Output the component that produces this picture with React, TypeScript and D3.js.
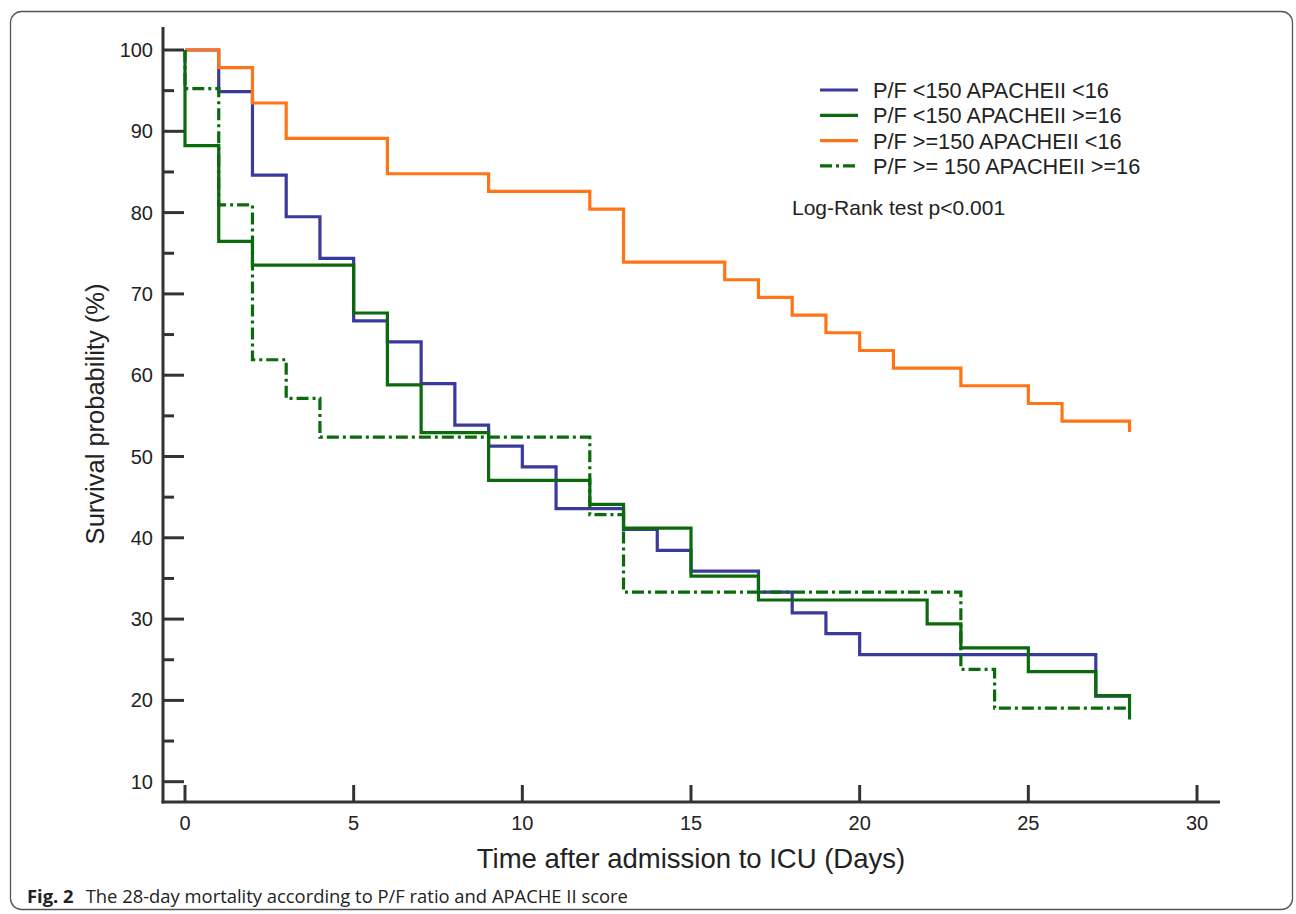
import { useEffect } from "react";
import * as d3 from "d3";

// Kaplan-Meier steps (day, survival %)
const blueDays = [0, 1, 2, 3, 4, 5, 6, 7, 8, 9, 10, 11, 13, 14, 15, 17, 18, 19, 20, 27, 28];
const blueVals = [100, 94.87, 84.62, 79.49, 74.36, 66.67, 64.1, 58.97, 53.85, 51.28, 48.72, 43.59, 41.03, 38.46, 35.9, 33.33, 30.77, 28.21, 25.64, 20.51, 20.51];

const greenDays = [0, 0, 1, 2, 5, 6, 7, 9, 12, 13, 15, 17, 22, 23, 25, 27, 28];
const greenVals = [100, 88.24, 76.47, 73.53, 67.65, 58.82, 52.94, 47.06, 44.12, 41.18, 35.29, 32.35, 29.41, 26.47, 23.53, 20.59, 17.65];

const orangeDays = [0, 1, 2, 3, 6, 9, 12, 13, 16, 17, 18, 19, 20, 21, 23, 25, 26, 28];
const orangeVals = [100, 97.83, 93.48, 89.13, 84.78, 82.61, 80.43, 73.91, 71.74, 69.57, 67.39, 65.22, 63.04, 60.87, 58.7, 56.52, 54.35, 53.0];

const dashDays = [0, 0, 1, 2, 3, 4, 12, 13, 23, 24, 28];
const dashVals = [100, 95.24, 80.95, 61.9, 57.14, 52.38, 42.86, 33.33, 23.81, 19.05, 19.05];

const legendLabels = [
  "P/F <150 APACHEII <16",
  "P/F <150 APACHEII >=16",
  "P/F >=150 APACHEII <16",
  "P/F >= 150 APACHEII >=16",
];

const xTicks = [0, 5, 10, 15, 20, 25, 30];
const yMajor = [10, 20, 30, 40, 50, 60, 70, 80, 90, 100];
const yMinor = [15, 25, 35, 45, 55, 65, 75, 85, 95];

const BLUE = "#3a3a9c";
const GREEN = "#0b6a0b";
const ORANGE = "#ff7417";
const AXIS = "#333";
const FONT = "'Liberation Sans', Arial, sans-serif";

export default function App() {
  useEffect(() => {
    document.body.style.margin = "0";
  }, []);

  const W = 1296;
  const H = 914;

  const x = d3.scaleLinear().domain([0, 30]).range([185, 1197]);
  const y = d3.scaleLinear().domain([10, 100]).range([781.7, 50]);

  const axisX = 163;
  const axisY = 802;

  const line = d3
    .line<[number, number]>()
    .x((d) => x(d[0]))
    .y((d) => y(d[1]))
    .curve(d3.curveStepAfter);

  const zip = (a: number[], b: number[]) => a.map((d, i) => [d, b[i]] as [number, number]);

  const series = [
    { key: "blue", data: zip(blueDays, blueVals), color: BLUE, dash: null },
    { key: "green", data: zip(greenDays, greenVals), color: GREEN, dash: null },
    { key: "orange", data: zip(orangeDays, orangeVals), color: ORANGE, dash: null },
    { key: "dash", data: zip(dashDays, dashVals), color: GREEN, dash: "12,4,3,4" },
  ];

  const legendStyle = [
    { color: BLUE, dash: null },
    { color: GREEN, dash: null },
    { color: ORANGE, dash: null },
    { color: GREEN, dash: "12,4,3,4" },
  ];

  return (
    <svg width={W} height={H} style={{ display: "block", background: "#fff" }}>
      <rect x={10.5} y={11.5} width={1282} height={898} rx={11} fill="none" stroke="#555" strokeWidth={1.3} />

      {/* curves */}
      <g fill="none" strokeWidth={3.2}>
        {series.map((s) => (
          <path key={s.key} d={line(s.data) || ""} stroke={s.color} strokeDasharray={s.dash || undefined} />
        ))}
      </g>

      {/* y axis */}
      <line x1={axisX} x2={axisX} y1={27} y2={axisY + 1.5} stroke={AXIS} strokeWidth={3} />
      {yMajor.map((v) => (
        <g key={"ym" + v}>
          <line x1={axisX} x2={184} y1={y(v)} y2={y(v)} stroke={AXIS} strokeWidth={3} />
          <text x={153} y={y(v) + 7} textAnchor="end" fontFamily={FONT} fontSize={20} fill="#222">
            {v}
          </text>
        </g>
      ))}
      {yMinor.map((v) => (
        <line key={"yn" + v} x1={axisX} x2={174} y1={y(v)} y2={y(v)} stroke={AXIS} strokeWidth={3} />
      ))}

      {/* x axis */}
      <line x1={axisX - 1.5} x2={1220} y1={axisY} y2={axisY} stroke={AXIS} strokeWidth={3} />
      {xTicks.map((t) => (
        <g key={"xt" + t}>
          <line x1={x(t)} x2={x(t)} y1={axisY} y2={785} stroke={AXIS} strokeWidth={3} />
          <text x={x(t)} y={830} textAnchor="middle" fontFamily={FONT} fontSize={20} fill="#222">
            {t}
          </text>
        </g>
      ))}

      <text x={691} y={868} textAnchor="middle" fontFamily={FONT} fontSize={27.5} fill="#222">
        Time after admission to ICU (Days)
      </text>
      <text
        transform={`translate(104,${414}) rotate(-90)`}
        textAnchor="middle"
        fontFamily={FONT}
        fontSize={25.5}
        fill="#222"
      >
        Survival probability (%)
      </text>

      {/* legend */}
      {legendLabels.map((lab, i) => (
        <g key={lab} transform={`translate(0,${90 + i * 25.3})`}>
          <line
            x1={820}
            x2={858}
            y1={0}
            y2={0}
            stroke={legendStyle[i].color}
            strokeWidth={3.2}
            strokeDasharray={legendStyle[i].dash || undefined}
          />
          <text x={873} y={8} fontFamily={FONT} fontSize={21.7} fill="#222">
            {lab}
          </text>
        </g>
      ))}
      <text x={792} y={215} fontFamily={FONT} fontSize={21} fill="#222">
        Log-Rank test p&lt;0.001
      </text>

      {/* caption */}
      <text x={27} y={903} fontFamily="'Open Sans', sans-serif" fontSize={18.4} fill="#222">
        <tspan fontWeight="bold">Fig. 2</tspan>
        <tspan dx={12}>The 28-day mortality according to P/F ratio and APACHE II score</tspan>
      </text>
    </svg>
  );
}
